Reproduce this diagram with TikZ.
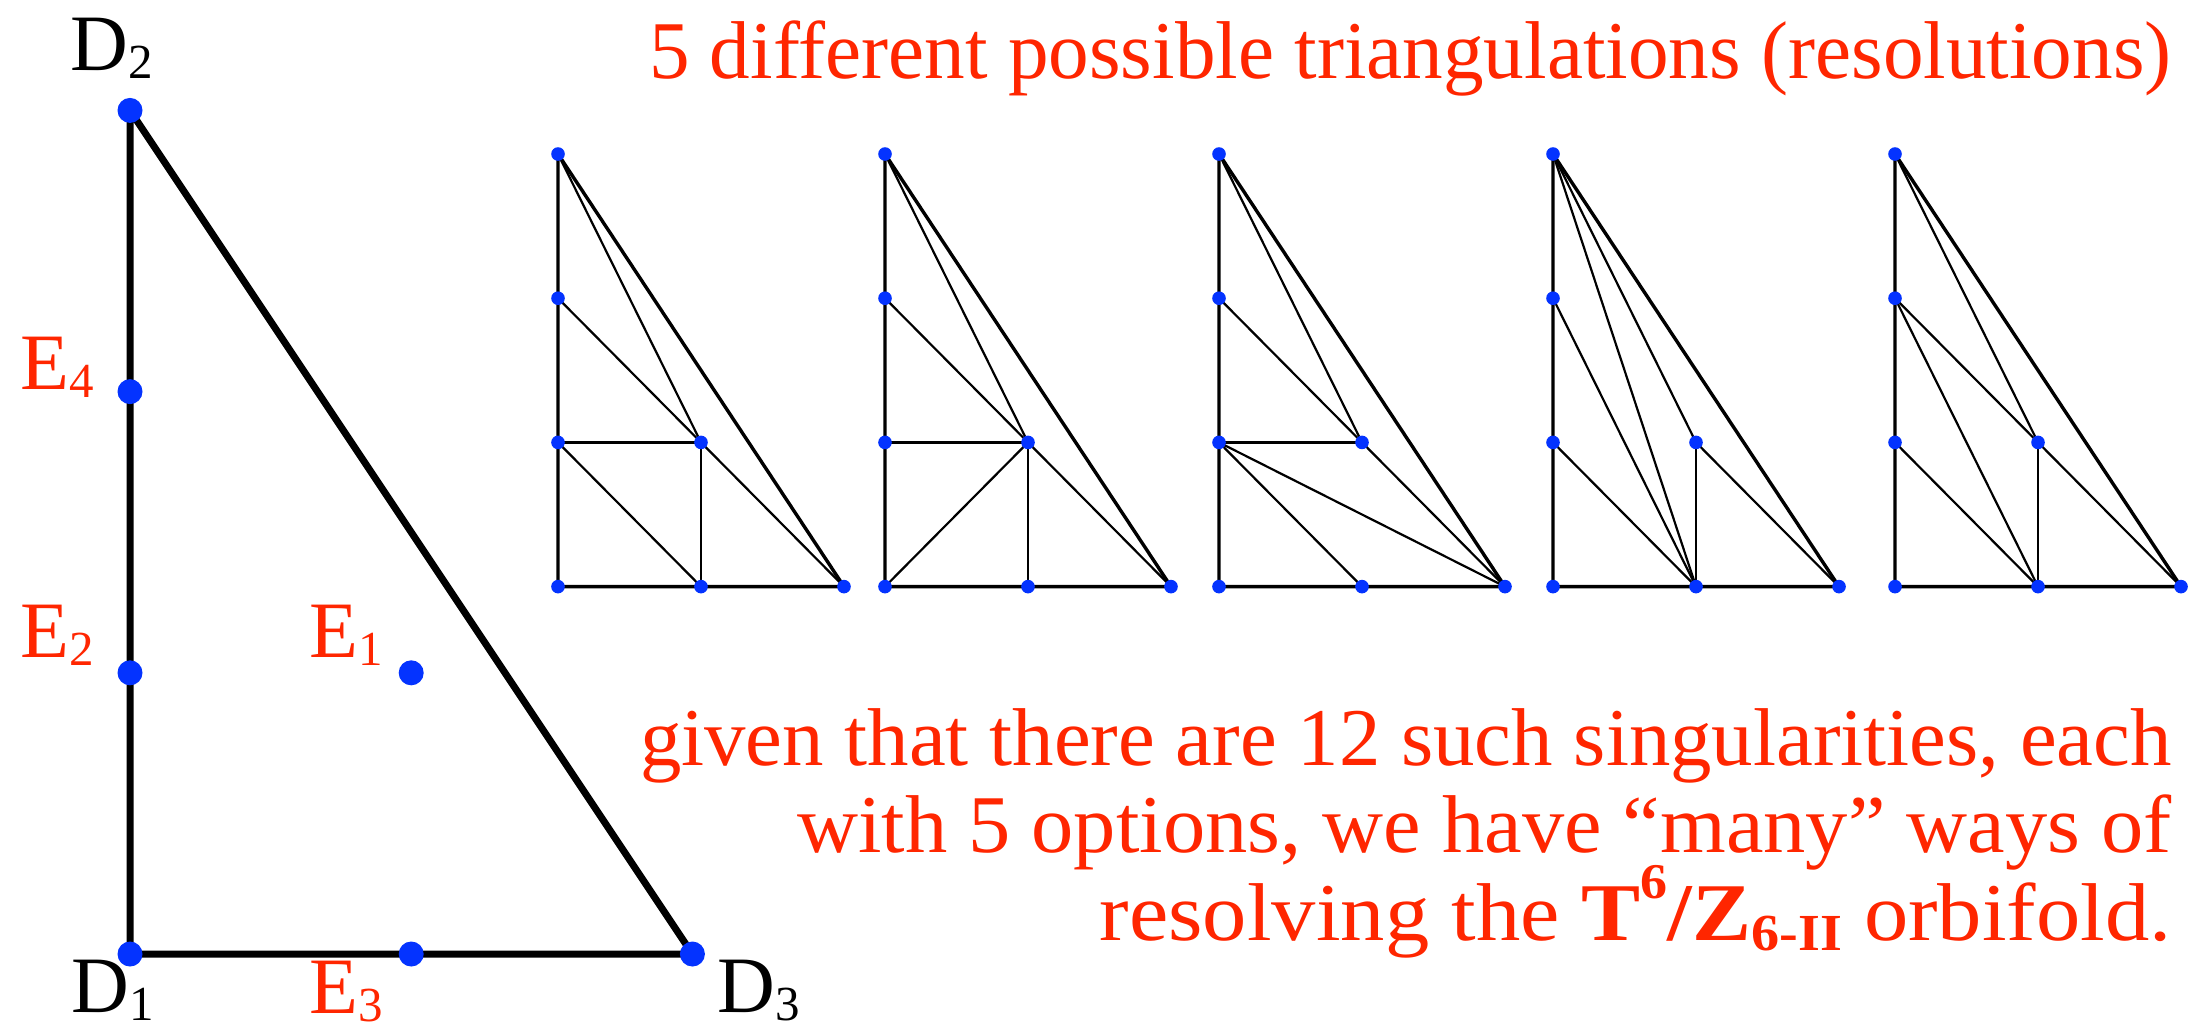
\documentclass[tikz,border=0pt]{standalone}
\usepackage{fontspec}
\setmainfont{Liberation Serif}
\definecolor{kred}{RGB}{255,38,0}
\definecolor{kblue}{RGB}{4,51,255}
\newcommand\sublab[2]{#1\raisebox{-4pt}{\fontsize{24.5pt}{28pt}\selectfont #2}}
\begin{document}
\begin{tikzpicture}[x=0.5pt,y=-0.5pt,
  bigdot/.style={circle,fill=kblue,inner sep=0pt,minimum size=12.5pt},
  smalldot/.style={circle,fill=kblue,inner sep=0pt,minimum size=6.8pt},
  bigedge/.style={line width=3.5pt,line join=round},
  outeredge/.style={line width=1.7pt,line join=round},
  inneredge/.style={line width=1.1pt},
  redtxt/.style={text=kred,inner sep=0pt,font=\fontsize{41pt}{48pt}\selectfont},
  lab/.style={inner sep=0pt,anchor=base west,font=\fontsize{40pt}{48pt}\selectfont},
  redlab/.style={lab,text=kred}
]
\useasboundingbox[fill=white] (0,0) rectangle (2198,1025);

% big toric diagram
\coordinate (D1) at (130,954);
\coordinate (D2) at (130,110.4);
\coordinate (D3) at (692.4,954);
\coordinate (E1) at (411.2,672.8);
\coordinate (E2) at (130,672.8);
\coordinate (E3) at (411.2,954);
\coordinate (E4) at (130,391.6);
\draw[bigedge] (D1) -- (D2) -- (D3) -- cycle;
\foreach \p in {D1,D2,D3,E1,E2,E3,E4} \node[bigdot] (n\p) at (\p) {};

\node[lab] (lD2) at (70,70) {\sublab{D}{2}};
\node[redlab] (lE4) at (20,389) {\sublab{E}{4}};
\node[redlab] (lE2) at (20,657) {\sublab{E}{2}};
\node[redlab] (lE1) at (309,657) {\sublab{E}{1}};
\node[lab] (lD1) at (71,1012) {\sublab{D}{1}};
\node[redlab] (lE3) at (309,1013) {\sublab{E}{3}};
\node[lab] (lD3) at (717,1012) {\sublab{D}{3}};

% five triangulations
\foreach \k/\L in {1/558,2/885,3/1219,4/1553,5/1895} {
  \foreach \i/\j in {0/0,0/1,0/2,0/3,1/0,2/0,1/1}
    \coordinate (t\k-\i\j) at ({\L+\i*143},{586.6-\j*144.2});
}
\foreach \a/\b in {02/11,03/11,01/11,01/10,10/11,11/20}
  \draw[inneredge] (t1-\a) -- (t1-\b);
\foreach \a/\b in {03/11,02/11,01/11,00/11,10/11,11/20}
  \draw[inneredge] (t2-\a) -- (t2-\b);
\foreach \a/\b in {03/11,02/11,01/11,01/10,01/20,11/20}
  \draw[inneredge] (t3-\a) -- (t3-\b);
\foreach \a/\b in {03/10,03/11,02/10,01/10,10/11,11/20}
  \draw[inneredge] (t4-\a) -- (t4-\b);
\foreach \a/\b in {03/11,02/11,02/10,01/10,10/11,11/20}
  \draw[inneredge] (t5-\a) -- (t5-\b);
\foreach \k in {1,...,5} {
  \draw[outeredge] (t\k-00) -- (t\k-03) -- (t\k-20) -- cycle;
  \foreach \q in {00,01,02,03,10,20,11}
    \node[smalldot] (s\k-\q) at (t\k-\q) {};
}

% texts
\node[redtxt,anchor=base east] (title) at (2172,78) {\scalebox{0.99}[1]{5 different possible triangulations (resolutions)}};
\node[redtxt,anchor=base east] (line1) at (2172,765) {\scalebox{1.01}[1]{given that there are 12 such singularities, each}};
\node[redtxt,anchor=base east] (line2) at (2172,852) {\scalebox{1.03}[1]{with 5 options, we have “many” ways of}};
\node[redtxt,anchor=base east] (line3) at (2172,940) {\scalebox{1.08}[1]{resolving the {\bfseries T\raisebox{21pt}{\fontsize{25pt}{30pt}\selectfont 6}/Z\raisebox{-5pt}{\fontsize{26pt}{30pt}\selectfont 6-II}} orbifold.}};
\end{tikzpicture}
\end{document}
